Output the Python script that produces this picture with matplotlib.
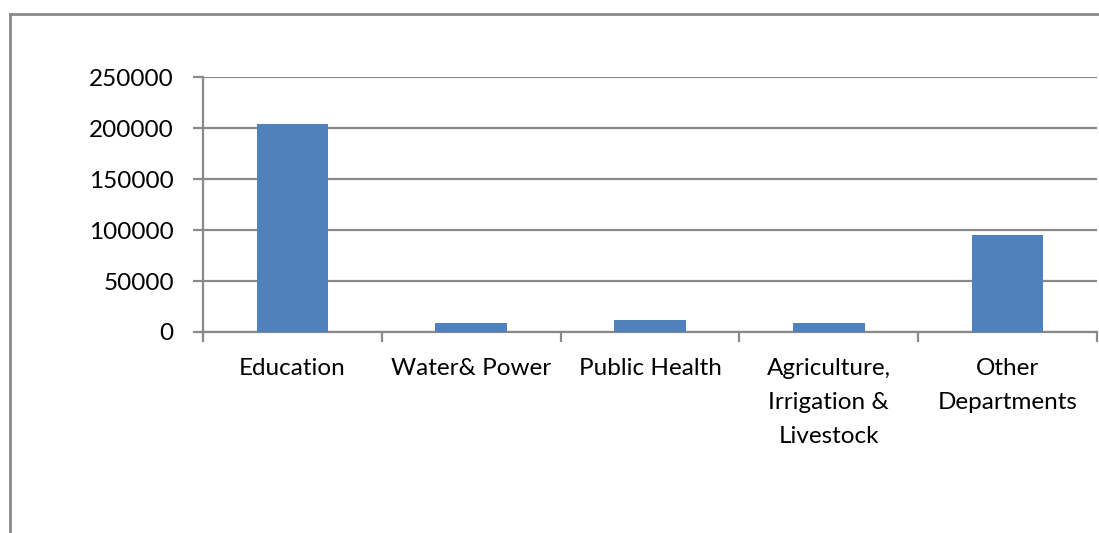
import matplotlib.pyplot as plt
from matplotlib.lines import Line2D

categories = ["Education", "Water& Power", "Public Health",
              "Agriculture,\nIrrigation &\nLivestock", "Other\nDepartments"]
values = [204000, 8800, 11400, 8500, 95000]
yticks = [0, 50000, 100000, 150000, 200000, 250000]

grey = "#898989"
bar_color = "#4F81BD"

plt.rcParams['font.family'] = ['Lato', 'DejaVu Sans']

fig = plt.figure(figsize=(10.99, 5.33), dpi=100)
ax = fig.add_axes([203 / 1099, 1 - 332 / 533, (1097 - 203) / 1099, (332 - 77) / 533])

x = list(range(len(categories)))
ax.bar(x, values, width=0.4, color=bar_color, zorder=3)

ax.set_xlim(-0.5, len(categories) - 0.5)
ax.set_ylim(0, 250000)
ax.set_yticks(yticks)
ax.set_yticklabels([str(v) for v in yticks], fontsize=17.5)
ax.yaxis.grid(True, color=grey, linewidth=1.6, zorder=0)

ax.set_xticks(x)
ax.set_xticklabels(categories, fontsize=17.5, linespacing=1.75, va='top')
ax.set_xticks([i - 0.5 for i in range(len(categories) + 1)], minor=True)
ax.tick_params(axis='x', which='major', length=0, pad=19)
ax.tick_params(axis='x', which='minor', length=7, width=1.6, color=grey)
ax.tick_params(axis='y', length=7, width=1.6, color=grey, pad=14)

for s in ['top', 'right']:
    ax.spines[s].set_visible(False)
for s in ['left', 'bottom']:
    ax.spines[s].set_color(grey)
    ax.spines[s].set_linewidth(1.6)

# outer chart frame (top and left edges visible)
fig.add_artist(Line2D([10 / 1099, 10 / 1099], [0, 1 - 14 / 533], transform=fig.transFigure,
                      color=grey, linewidth=2))
fig.add_artist(Line2D([10 / 1099, 1], [1 - 14 / 533, 1 - 14 / 533], transform=fig.transFigure,
                      color=grey, linewidth=2))

fig.savefig("out.png", dpi=100)
